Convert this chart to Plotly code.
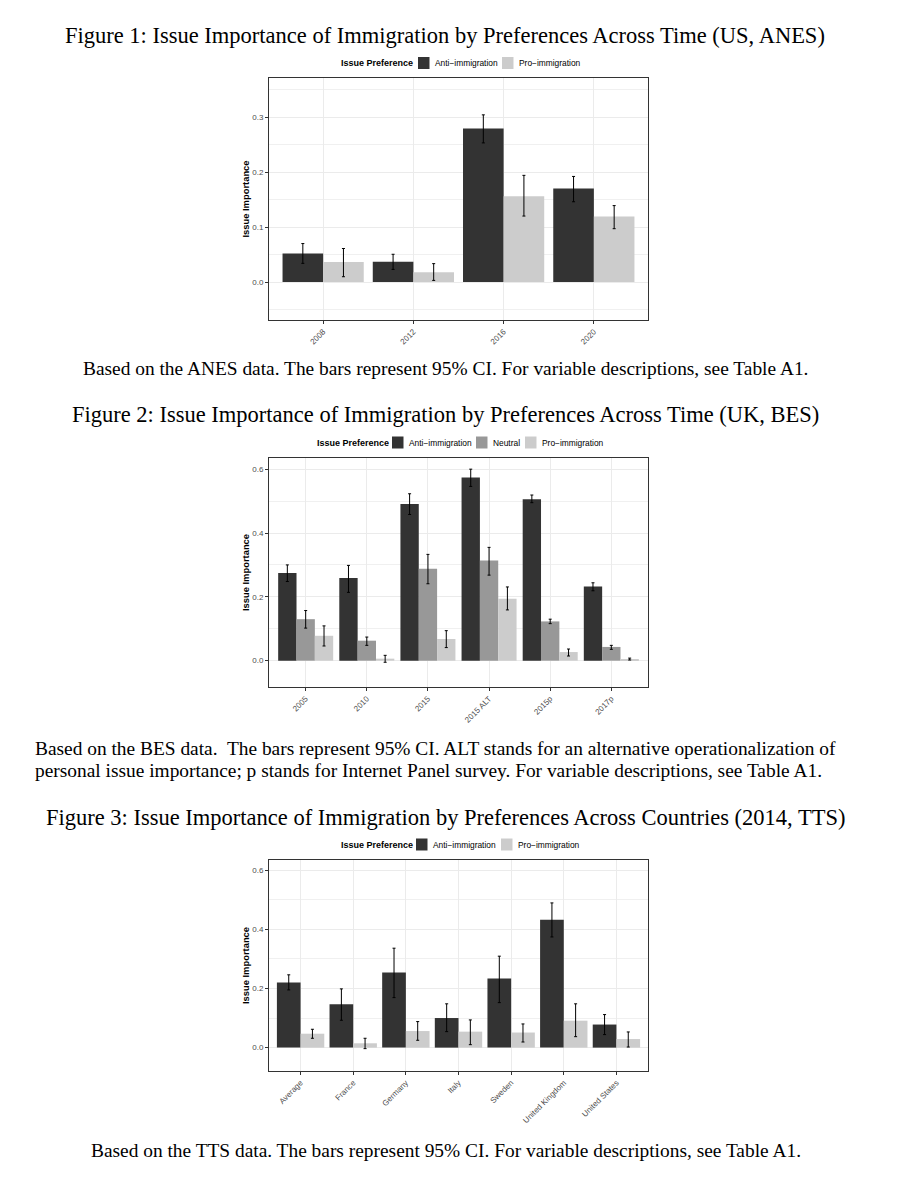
import plotly.graph_objects as go

# ---------------- data ----------------
us_years = ["2008", "2012", "2016", "2020"]
us_anti = [0.052, 0.037, 0.279, 0.170]
us_anti_hi = [0.070, 0.0505, 0.304, 0.192]
us_anti_lo = [0.034, 0.023, 0.253, 0.146]
us_pro = [0.0365, 0.018, 0.156, 0.119]
us_pro_hi = [0.061, 0.0335, 0.194, 0.139]
us_pro_lo = [0.0097, 0.003, 0.120, 0.097]

uk_years = ["2005", "2010", "2015", "2015 ALT", "2015p", "2017p"]
uk_anti = [0.2745, 0.259, 0.4906, 0.574, 0.506, 0.232]
uk_anti_hi = [0.300, 0.2985, 0.523, 0.600, 0.519, 0.244]
uk_anti_lo = [0.248, 0.214, 0.458, 0.546, 0.495, 0.219]
uk_neu = [0.130, 0.0626, 0.288, 0.314, 0.123, 0.043]
uk_neu_hi = [0.157, 0.074, 0.333, 0.355, 0.130, 0.048]
uk_neu_lo = [0.102, 0.048, 0.241, 0.268, 0.116, 0.0355]
uk_pro = [0.078, 0.0063, 0.068, 0.194, 0.027, 0.005]
uk_pro_hi = [0.109, 0.0167, 0.094, 0.231, 0.0365, 0.008]
uk_pro_lo = [0.046, -0.005, 0.041, 0.159, 0.0146, 0.002]

tts_countries = ["Average", "France", "Germany", "Italy", "Sweden",
                 "United Kingdom", "United States"]
tts_anti = [0.220, 0.1466, 0.2537, 0.100, 0.2334, 0.432, 0.078]
tts_anti_hi = [0.246, 0.1985, 0.336, 0.148, 0.309, 0.489, 0.1117]
tts_anti_lo = [0.195, 0.0925, 0.169, 0.054, 0.152, 0.374, 0.044]
tts_pro = [0.047, 0.0147, 0.056, 0.054, 0.051, 0.091, 0.029]
tts_pro_hi = [0.062, 0.0316, 0.088, 0.0936, 0.080, 0.148, 0.053]
tts_pro_lo = [0.0316, -0.0034, 0.0248, 0.010, 0.019, 0.037, 0.002]

legend_title = "Issue Preference"
lab_anti = "Anti\u2212immigration"
lab_neu = "Neutral"
lab_pro = "Pro\u2212immigration"

# ---------------- style ----------------
C_ANTI = "#333333"
C_NEU = "#989898"
C_PRO = "#CCCCCC"
SANS = "Liberation Sans"
SERIF = "Liberation Serif"
W, H = 901, 1200
OFF = 8  # page body margin


def X(px):
    return (px - OFF) / W


def Y(py):
    return 1 - (py - OFF) / H


fig = go.Figure()


def add_bar(name, cats, vals, hi, lo, color, xa, ya):
    fig.add_trace(go.Bar(
        name=name, x=cats, y=vals, xaxis=xa, yaxis=ya, showlegend=False,
        marker=dict(color=color, line=dict(width=0)),
        error_y=dict(type="data", symmetric=False,
                     array=[h - v for h, v in zip(hi, vals)],
                     arrayminus=[v - l for v, l in zip(vals, lo)],
                     color="black", thickness=1, width=1.5),
    ))


add_bar(lab_anti, us_years, us_anti, us_anti_hi, us_anti_lo, C_ANTI, "x", "y")
add_bar(lab_pro, us_years, us_pro, us_pro_hi, us_pro_lo, C_PRO, "x", "y")

add_bar(lab_anti, uk_years, uk_anti, uk_anti_hi, uk_anti_lo, C_ANTI, "x2", "y2")
add_bar(lab_neu, uk_years, uk_neu, uk_neu_hi, uk_neu_lo, C_NEU, "x2", "y2")
add_bar(lab_pro, uk_years, uk_pro, uk_pro_hi, uk_pro_lo, C_PRO, "x2", "y2")

add_bar(lab_anti, tts_countries, tts_anti, tts_anti_hi, tts_anti_lo, C_ANTI, "x3", "y3")
add_bar(lab_pro, tts_countries, tts_pro, tts_pro_hi, tts_pro_lo, C_PRO, "x3", "y3")

xdom = [X(269), X(648)]


def ydom(top, bottom):
    return [Y(bottom), Y(top)]


TICKFONT = dict(family=SANS, size=8, color="#4D4D4D")


def xaxis_cfg(n, anchor):
    return dict(
        domain=xdom, anchor=anchor, type="category", range=[-0.6, n - 0.4],
        showline=True, mirror=True, linecolor="#333333", linewidth=1,
        showgrid=True, gridcolor="#EBEBEB", gridwidth=1,
        ticks="outside", ticklen=3, tickcolor="#333333", tickwidth=0.8,
        tickangle=-45, tickfont=TICKFONT,
        zeroline=False, fixedrange=True,
    )


def yaxis_cfg(dom, rng, dtick, anchor):
    return dict(
        domain=dom, anchor=anchor, range=rng, dtick=dtick, tick0=0,
        tickformat=".1f",
        showline=True, mirror=True, linecolor="#333333", linewidth=1,
        showgrid=True, gridcolor="#EBEBEB", gridwidth=1,
        minor=dict(dtick=dtick / 2, tick0=0, showgrid=True,
                   gridcolor="#F0F0F0", gridwidth=0.6, ticks=""),
        ticks="outside", ticklen=3, tickcolor="#333333", tickwidth=0.8,
        tickfont=TICKFONT,
        title=dict(text="<b>Issue Importance</b>",
                   font=dict(family=SANS, size=9.4, color="black"), standoff=0),
        zeroline=False, fixedrange=True,
    )


annotations = []
shapes = []


def text(t, xpx, ypx, size, xanchor="center", family=SERIF):
    annotations.append(dict(
        text=t, x=X(xpx), y=Y(ypx), xref="paper", yref="paper",
        xanchor=xanchor, yanchor="middle", align="left", showarrow=False,
        font=dict(family=family, size=size, color="black"),
    ))


def legend(ypx, title_right, items):
    # items: (label, key_left_px, color)
    annotations.append(dict(
        text="<b>" + legend_title + "</b>", x=X(title_right), y=Y(ypx),
        xref="paper", yref="paper", xanchor="right", yanchor="middle",
        showarrow=False, font=dict(family=SANS, size=9, color="black"),
    ))
    for label, kx, color in items:
        shapes.append(dict(
            type="rect", xref="paper", yref="paper",
            x0=X(kx), x1=X(kx + 11.5), y0=Y(ypx - 6), y1=Y(ypx + 6),
            fillcolor=color, line=dict(width=0), layer="above",
        ))
        annotations.append(dict(
            text=label, x=X(kx + 15), y=Y(ypx), xref="paper", yref="paper",
            xanchor="left", yanchor="middle", showarrow=False,
            font=dict(family=SANS, size=8.4, color="black"),
        ))


CAP = 19.4
text("Figure 1: Issue Importance of Immigration by Preferences Across Time (US, ANES)", 445, 36, 22.5)
legend(63, 415, [(lab_anti, 418, C_ANTI), (lab_pro, 502, C_PRO)])
text("Based on the ANES data. The bars represent 95% CI. For variable descriptions, see Table A1.", 445, 368, CAP)

text("Figure 2: Issue Importance of Immigration by Preferences Across Time (UK, BES)", 445, 415, 22.5)
legend(442.5, 391, [(lab_anti, 392, C_ANTI), (lab_neu, 476, C_NEU), (lab_pro, 525, C_PRO)])
text("Based on the BES data.&nbsp; The bars represent 95% CI. ALT stands for an alternative operationalization of",
     33, 748, CAP, xanchor="left")
text("personal issue importance; p stands for Internet Panel survey. For variable descriptions, see Table A1.",
     33, 770, CAP, xanchor="left")

text("Figure 3: Issue Importance of Immigration by Preferences Across Countries (2014, TTS)", 445.5, 817, 22.5)
legend(844.5, 415, [(lab_anti, 416, C_ANTI), (lab_pro, 501, C_PRO)])
text("Based on the TTS data. The bars represent 95% CI. For variable descriptions, see Table A1.", 445.5, 1150, CAP)

fig.update_layout(
    width=W, height=H, margin=dict(l=0, r=0, t=0, b=0),
    paper_bgcolor="white", plot_bgcolor="white",
    barmode="group", bargap=0.1, bargroupgap=0,
    font=dict(family=SANS),
    xaxis=xaxis_cfg(len(us_years), "y"),
    yaxis=yaxis_cfg(ydom(78, 320), [-0.069, 0.371], 0.1, "x"),
    xaxis2=xaxis_cfg(len(uk_years), "y2"),
    yaxis2=yaxis_cfg(ydom(458, 687), [-0.0825, 0.635], 0.2, "x2"),
    xaxis3=xaxis_cfg(len(tts_countries), "y3"),
    yaxis3=yaxis_cfg(ydom(860, 1071), [-0.079, 0.634], 0.2, "x3"),
    annotations=annotations,
    shapes=shapes,
    showlegend=False,
)

fig.write_html("out.html")
